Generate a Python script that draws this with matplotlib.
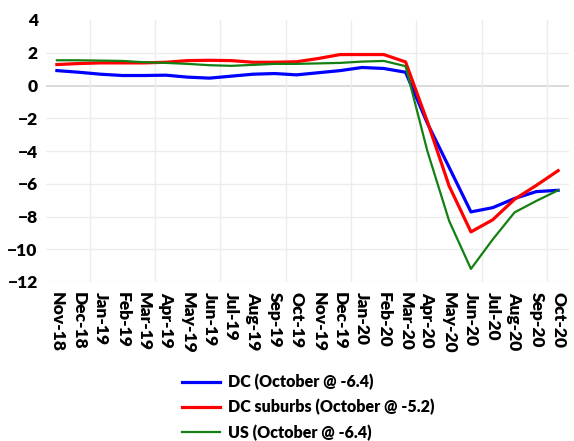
import matplotlib
matplotlib.use('Agg')
import matplotlib.pyplot as plt

months = ['Nov-18', 'Dec-18', 'Jan-19', 'Feb-19', 'Mar-19', 'Apr-19', 'May-19', 'Jun-19',
          'Jul-19', 'Aug-19', 'Sep-19', 'Oct-19', 'Nov-19', 'Dec-19', 'Jan-20', 'Feb-20',
          'Mar-20', 'Apr-20', 'May-20', 'Jun-20', 'Jul-20', 'Aug-20', 'Sep-20', 'Oct-20']

dc = [0.91, 0.81, 0.69, 0.61, 0.61, 0.63, 0.51, 0.45, 0.57, 0.69, 0.73, 0.65,
      0.78, 0.91, 1.10, 1.04, 0.81, -2.3, -5.0, -7.72, -7.46, -6.9, -6.48, -6.4]
suburbs = [1.28, 1.34, 1.38, 1.38, 1.38, 1.42, 1.52, 1.54, 1.52, 1.42, 1.42, 1.45,
           1.65, 1.89, 1.89, 1.89, 1.44, -2.2, -6.14, -8.94, -8.2, -6.95, -6.1, -5.2]
us = [1.54, 1.54, 1.52, 1.50, 1.42, 1.38, 1.32, 1.24, 1.20, 1.26, 1.32, 1.32,
      1.35, 1.38, 1.46, 1.50, 1.18, -4.0, -8.27, -11.2, -9.4, -7.75, -7.05, -6.4]

labels = ['DC (October @ -6.4)', 'DC suburbs (October @ -5.2)', 'US (October @ -6.4)']

plt.rcParams['font.family'] = ['Lato', 'DejaVu Sans']
plt.rcParams['font.weight'] = 'heavy'

fig = plt.figure(figsize=(5.74, 4.41), dpi=100)
ax = fig.add_axes([46 / 574, 1 - 282 / 441, 523 / 574, 262 / 441])

x = list(range(len(months)))

# light grid, zero line a bit darker
for v in [-12, -10, -8, -6, -4, -2, 2]:
    ax.axhline(v, color='#ececec', lw=1, zorder=0)
ax.axhline(0, color='#d4d4d4', lw=1.2, zorder=0)
for g in range(1, len(months), 3):
    ax.axvline(g + 0.5, color='#ececec', lw=1, zorder=0)

ax.plot(x, dc, color='#0000ff', lw=2.3, label=labels[0])
ax.plot(x, suburbs, color='#ff0000', lw=2.3, label=labels[1])
ax.plot(x, us, color='#128012', lw=1.6, label=labels[2])

ax.set_xlim(-0.5, len(months) - 0.5)
ax.set_ylim(-12, 4)
ax.set_yticks(range(-12, 5, 2))
ax.set_xticks(x)
ax.set_xticklabels(months, rotation=270, fontsize=12.5)
ax.tick_params(axis='x', length=0, pad=7)
ax.tick_params(axis='y', length=0, pad=6, labelsize=12.5)

for s in ax.spines.values():
    s.set_visible(False)

ax.legend(loc='upper left', bbox_to_anchor=(182 / 574, 1 - 374 / 441),
          bbox_transform=fig.transFigure, frameon=False, fontsize=11.5,
          handlelength=2.4, handletextpad=0.5, labelspacing=0.55,
          borderpad=0, borderaxespad=0)

fig.savefig('out.png', dpi=100)
